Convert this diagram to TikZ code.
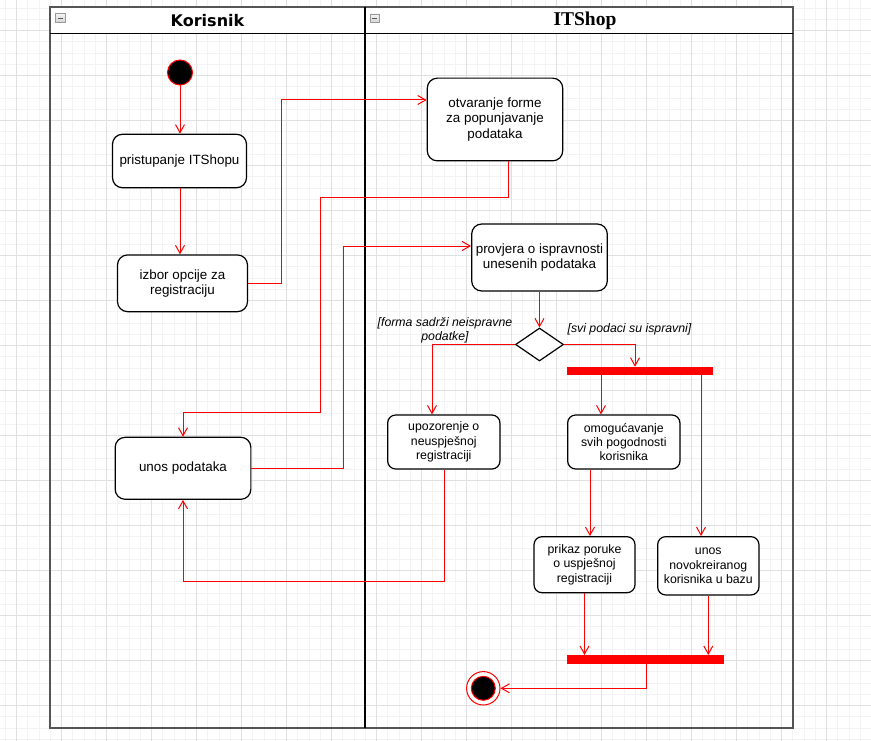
\documentclass[tikz,border=0pt]{standalone}
\usepackage{fontspec}
\setmainfont{Liberation Sans}
\newfontfamily\lanesans{DejaVu Sans}
\newfontfamily\laneserif{Liberation Serif}
\usetikzlibrary{arrows.meta,shapes.geometric}
\definecolor{flowred}{HTML}{FF0000}
\definecolor{gridminor}{HTML}{F3F3F3}
\definecolor{gridmajor}{HTML}{E0E0E0}
\definecolor{laneborder}{HTML}{555555}
\begin{document}
\begin{tikzpicture}[x=1pt,y=-1pt,
  activity/.style={draw=black, fill=white, line width=1.2pt, rounded corners=10pt,
    align=center, inner sep=0pt, font=\fontsize{13.4}{15.4}\selectfont},
  smallact/.style={activity, rounded corners=8pt, font=\fontsize{12.3}{14.3}\selectfont},
  flow/.style={draw=flowred, line width=1pt, -{Straight Barb[length=8pt,width=9pt]}},
  syncbar/.style={rectangle, fill=flowred, inner sep=0pt, outer sep=0pt},
  guard/.style={align=center, inner sep=0pt, font=\fontsize{12.3}{14.3}\selectfont\itshape},
  collapser/.style={draw=gray!80, top color=gray!8, bottom color=gray!35, line width=0.6pt},
  collapsebar/.style={draw=gray!70!black, line width=0.9pt},
]
\useasboundingbox (0,0) rectangle (871,741);
\fill[white] (0,0) rectangle (871,741);

% background grid
\foreach \i in {0,...,77} {\draw[gridminor, line width=1pt] ({5.45+11.25*\i},0) -- ({5.45+11.25*\i},741);}
\foreach \i in {0,...,65} {\draw[gridminor, line width=1pt] (0,{8.2+11.25*\i}) -- (871,{8.2+11.25*\i});}
\foreach \i in {0,...,18} {\draw[gridmajor, line width=1pt] ({16.7+45*\i},0) -- ({16.7+45*\i},741);}
\foreach \i in {0,...,15} {\draw[gridmajor, line width=1pt] (0,{30.7+45*\i}) -- (871,{30.7+45*\i});}

% swimlanes
\fill[white] (50,7.3) rectangle (792.7,33.3);
\draw[laneborder, line width=2pt] (50,7.3) rectangle (792.7,727.7);
\draw[black, line width=1.3pt] (50,33.3) -- (792.7,33.3);
\draw[black, line width=1.5pt] (365,7.3) -- (365,727.7);
\node[font=\lanesans\bfseries\fontsize{16}{18}\selectfont] (laneA) at (207.5,20.8) {Korisnik};
\node[font=\laneserif\bfseries\fontsize{19.5}{22}\selectfont] (laneB) at (585,20.8) {ITShop};
\draw[collapser] (55.5,13.5) rectangle (65.5,22.5);
\draw[collapsebar] (57.8,18) -- (63.2,18);
\draw[collapser] (370,14) rectangle (379.5,22.7);
\draw[collapsebar] (372.3,18.3) -- (377.2,18.3);

% activities
\node[circle, fill=black, draw=flowred, line width=1pt, minimum size=25pt, inner sep=0pt] (start) at (180,72.5) {};
\node[activity, minimum width=134pt, minimum height=53.5pt] (pristup) at (179.5,161) {pristupanje ITShopu};
\node[activity, minimum width=130pt, minimum height=56.7pt] (izbor) at (182.5,283.3) {izbor opcije za\\registraciju};
\node[activity, minimum width=135.7pt, minimum height=62pt] (unos) at (183,468.3) {unos podataka};
\node[activity, minimum width=135.4pt, minimum height=82.7pt] (otv) at (495,119.5) {otvaranje forme\\za popunjavanje\\podataka};
\node[activity, minimum width=135.6pt, minimum height=67pt] (prov) at (539.5,257.5) {provjera o ispravnosti\\unesenih podataka};
\node[diamond, draw=black, fill=white, line width=1.2pt, minimum width=48pt, minimum height=33pt, inner sep=0pt] (dec) at (539.5,344.5) {};
\node[syncbar, minimum width=145.4pt, minimum height=8pt] (bar1) at (640,370.7) {};
\node[smallact, minimum width=112.3pt, minimum height=54pt] (upoz) at (443.8,442) {upozorenje o\\neuspješnoj\\registraciji};
\node[smallact, minimum width=112.3pt, minimum height=54pt] (omog) at (623.8,442) {omogućavanje\\svih pogodnosti\\korisnika};
\node[smallact, minimum width=101pt, minimum height=56pt] (prikaz) at (584.5,564.7) {prikaz poruke\\o uspješnoj\\registraciji};
\node[smallact, minimum width=101.3pt, minimum height=58.3pt] (novo) at (708.3,565.8) {unos\\novokreiranog\\korisnika u bazu};
\node[syncbar, minimum width=157pt, minimum height=9pt] (bar2) at (645.8,659.5) {};
\node[circle, draw=flowred, fill=white, line width=1pt, minimum size=33.4pt, inner sep=0pt] (final) at (483.3,688.3) {};
\node[circle, draw=flowred, fill=black, line width=1pt, minimum size=24pt, inner sep=0pt] (finaldot) at (483.3,688.3) {};

% guard labels
\node[guard] (gfail) at (445,330.3) {[forma sadrži neispravne\\podatke]};
\node[guard] (gok) at (629.5,329.5) {[svi podaci su ispravni]};

% route points
\coordinate (r1) at (281,100);
\coordinate (r2a) at (508,198);
\coordinate (r2b) at (320,412);
\coordinate (r3) at (343,246);
\coordinate (r4) at (432,0);
\coordinate (r5) at (635,0);
\coordinate (r6) at (601,0);
\coordinate (r7) at (701,0);
\coordinate (r8) at (590,0);
\coordinate (r9) at (444,581.7);
\coordinate (r10) at (646.7,0);

% control flow
\draw[flow] (start.south) -- (start.south |- pristup.north);
\draw[flow] (pristup.south -| start) -- (izbor.north -| start);
\draw[flow] (izbor.east) -| (r1) -- (r1 -| otv.west);
\draw[flow] (otv.south -| r2a) -- (r2a) -| (r2b) -| (unos.north);
\draw[flow] (unos.east) -| (r3) -- (r3 -| prov.west);
\draw[flow] (prov.south) -- (dec.north);
\draw[flow] (dec.west) -| (r4 |- upoz.north);
\draw[flow] (dec.east) -| (r5 |- bar1.north);
\draw[flow] (r6 |- bar1.south) -- (r6 |- omog.north);
\draw[flow] (r7 |- bar1.south) -- (r7 |- novo.north);
\draw[flow] (r8 |- omog.south) -- (r8 |- prikaz.north);
\draw[flow] (r9 |- upoz.south) -- (r9) -| (unos.south);
\draw[flow] (prikaz.south) -- (prikaz.south |- bar2.north);
\draw[flow] (novo.south) -- (novo.south |- bar2.north);
\draw[flow] (r10 |- bar2.south) |- (final.east);
\end{tikzpicture}
\end{document}
